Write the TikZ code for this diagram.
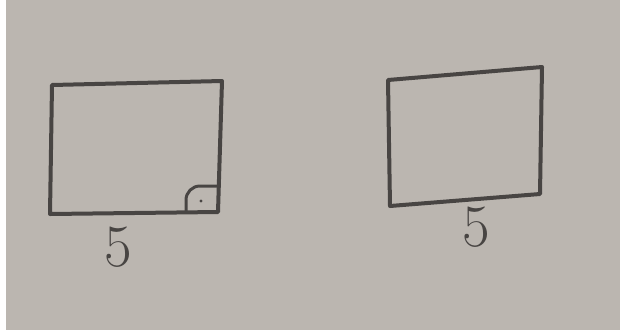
\documentclass[tikz,border=0pt]{standalone}
\usepackage{tikz}
\usetikzlibrary{positioning}
\definecolor{paper}{RGB}{187,182,176}
\definecolor{pencil}{RGB}{72,69,67}
\tikzset{%
	% Specifications for style of shapes and labels:
	base/.style = {draw=pencil, line width=4pt, line join=round, line cap=round},
	sidelabel/.style = {text=pencil, font=\fontsize{60}{60}\selectfont, inner sep=0pt},
}
\begin{document}
\begin{tikzpicture}[x=1pt, y=-1pt]
		
		% Paper and bounding box
		\fill[white] (0,0) rectangle (620,330);
		\fill[paper] (6,0) rectangle (620,330);
		\useasboundingbox (0,0) rectangle (620,330);
		
		% Left square with right angle mark
		\draw[base] (52,85) -- (222,81) -- (218,212) -- (50,214) -- cycle;
		\draw[base, line width=3pt] (186,212) -- (186,200) arc[start angle=180, end angle=270, radius=14] -- (218,186);
		\fill[pencil] (201,201) circle (1.6);
		
		% Right square
		\draw[base] (388,80) -- (542,67) -- (540,194) -- (390,206) -- cycle;
		
		% Labels
		\node (labelLeft)  [sidelabel] at (118,247) {5};
		\node (labelRight) [sidelabel] at (476,227) {5};
		
\end{tikzpicture}
\end{document}
